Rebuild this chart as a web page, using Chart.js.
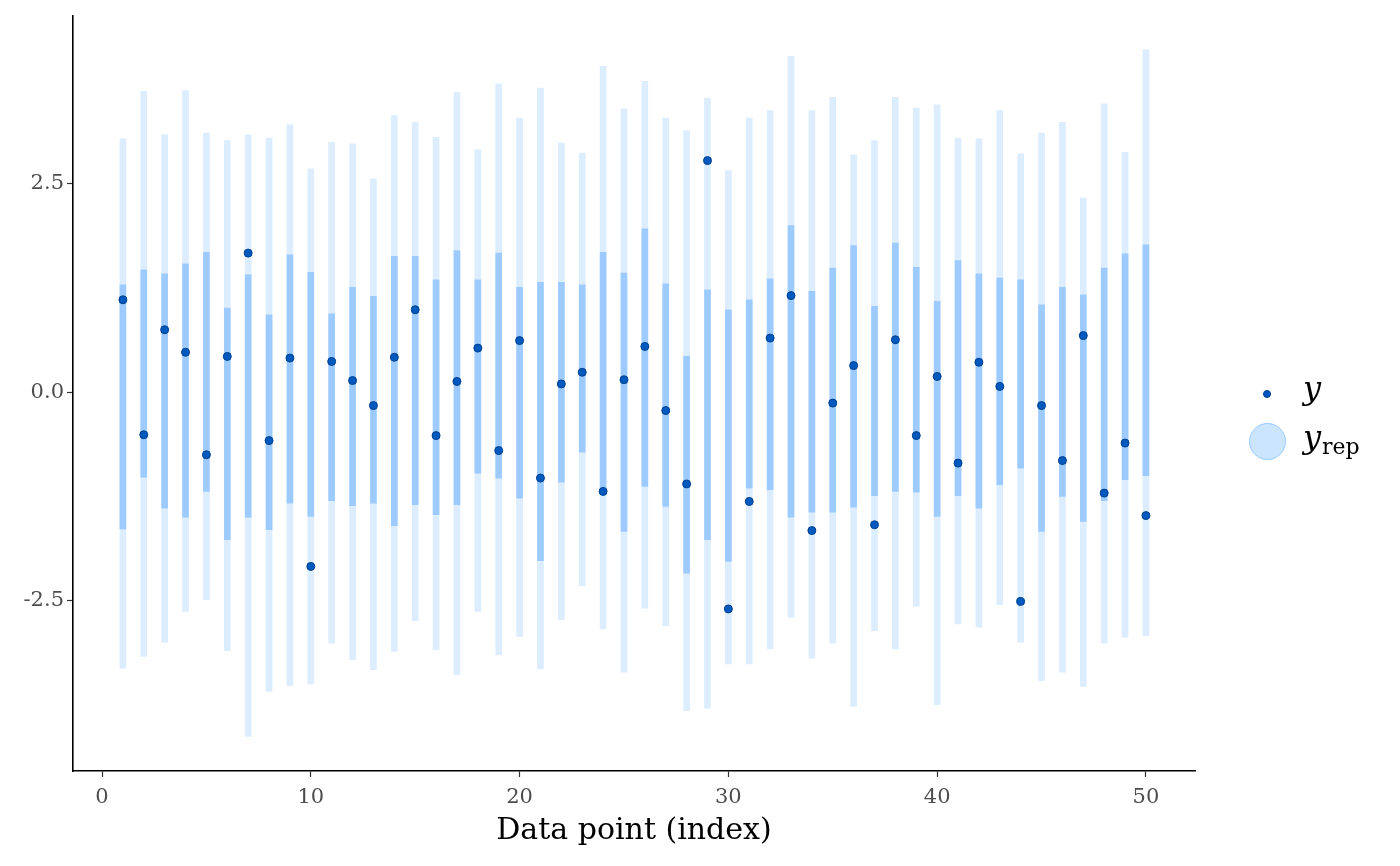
<!DOCTYPE html>
<html>
<head>
<meta charset="utf-8">
<script src="https://cdn.jsdelivr.net/npm/chart.js@4.4.0/dist/chart.umd.min.js"></script>
<style>
  html, body { margin: 0; padding: 0; background: #fff; }
  #wrap { position: relative; width: 1400px; height: 866px; }
  #xTitle {
    position: absolute; left: 73px; width: 1122px; top: 811px;
    text-align: center; font-family: "DejaVu Serif", serif; font-size: 30px; color: #000;
  }
  .legend-item { position: absolute; font-family: "DejaVu Serif", serif; color: #000; }
  .dot { position: absolute; border-radius: 50%; }
</style>
</head>
<body>
<div id="wrap">
  <canvas id="chart" width="1400" height="866"></canvas>
  <div id="xTitle">Data point (index)</div>
  <div class="dot" style="left:1263px; top:390px; width:6px; height:6px; background:#0059bf; border:1px solid #003f8a;"></div>
  <div class="legend-item" style="left:1303px; top:369px; font-size:32px; font-style:italic;">y</div>
  <div class="dot" style="left:1249px; top:423px; width:35px; height:35px; background:#cce5ff; border:1.5px solid #99cbff;"></div>
  <div class="legend-item" style="left:1303px; top:418px; font-size:32px;"><i>y</i><span style="font-size:22px; position:relative; top:6px; left:1px;">rep</span></div>
</div>
<script>
// data point index
const xIndex = [1, 2, 3, 4, 5, 6, 7, 8, 9, 10, 11, 12, 13, 14, 15, 16, 17, 18, 19, 20,
  21, 22, 23, 24, 25, 26, 27, 28, 29, 30, 31, 32, 33, 34, 35, 36, 37, 38, 39, 40,
  41, 42, 43, 44, 45, 46, 47, 48, 49, 50];

// observed y
const yObs = [1.11, -0.51, 0.75, 0.48, -0.75, 0.43, 1.67, -0.58, 0.41, -2.09,
  0.37, 0.14, -0.16, 0.42, 0.99, -0.52, 0.13, 0.53, -0.70, 0.62,
  -1.03, 0.10, 0.24, -1.19, 0.15, 0.55, -0.22, -1.10, 2.78, -2.60,
  -1.31, 0.65, 1.16, -1.66, -0.13, 0.32, -1.59, 0.63, -0.52, 0.19,
  -0.85, 0.36, 0.07, -2.51, -0.16, -0.82, 0.68, -1.21, -0.61, -1.48];

// inner interval of y_rep
const innerLo = [-1.64, -1.02, -1.39, -1.50, -1.19, -1.77, -1.50, -1.65, -1.33, -1.49,
  -1.30, -1.36, -1.33, -1.60, -1.35, -1.47, -1.35, -0.97, -1.03, -1.27,
  -2.02, -1.08, -0.72, -1.22, -1.67, -1.13, -1.37, -2.17, -1.77, -2.03,
  -1.15, -1.17, -1.50, -1.44, -1.44, -1.38, -1.24, -1.19, -1.20, -1.49,
  -1.24, -1.39, -1.11, -0.91, -1.67, -1.25, -1.55, -1.30, -1.05, -1.00];
const innerHi = [1.29, 1.47, 1.42, 1.54, 1.68, 1.01, 1.41, 0.93, 1.65, 1.44,
  0.94, 1.26, 1.15, 1.63, 1.63, 1.35, 1.70, 1.35, 1.67, 1.26,
  1.32, 1.32, 1.29, 1.68, 1.43, 1.96, 1.30, 0.43, 1.23, 0.99,
  1.11, 1.36, 2.00, 1.21, 1.49, 1.76, 1.03, 1.79, 1.50, 1.09,
  1.58, 1.42, 1.37, 1.35, 1.05, 1.26, 1.17, 1.49, 1.66, 1.77];

// outer interval of y_rep
const outerLo = [-3.31, -3.17, -3.00, -2.63, -2.49, -3.10, -4.13, -3.59, -3.52, -3.50,
  -3.01, -3.21, -3.33, -3.11, -2.74, -3.09, -3.39, -2.63, -3.15, -2.93,
  -3.32, -2.73, -2.32, -2.84, -3.36, -2.59, -2.80, -3.82, -3.79, -3.26,
  -3.26, -3.08, -2.70, -3.19, -3.01, -3.77, -2.86, -3.08, -2.57, -3.75,
  -2.78, -2.82, -2.55, -3.00, -3.46, -3.36, -3.53, -3.01, -2.94, -2.92];
const outerHi = [3.04, 3.61, 3.09, 3.62, 3.11, 3.02, 3.09, 3.05, 3.21, 2.68,
  3.00, 2.98, 2.56, 3.32, 3.24, 3.06, 3.60, 2.91, 3.70, 3.29,
  3.65, 2.99, 2.87, 3.91, 3.40, 3.73, 3.29, 3.14, 3.53, 2.66,
  3.29, 3.38, 4.03, 3.38, 3.54, 2.85, 3.02, 3.54, 3.41, 3.45,
  3.05, 3.04, 3.38, 2.86, 3.11, 3.24, 2.33, 3.46, 2.88, 4.11];

const xTicks = [0, 10, 20, 30, 40, 50];
const yTicks = [-2.5, 0, 2.5];

const tickFont = { family: "DejaVu Serif", size: 21 };

new Chart(document.getElementById("chart"), {
  type: "bar",
  data: {
    datasets: [
      {
        type: "scatter",
        label: "y",
        data: xIndex.map((x, i) => ({ x: x, y: yObs[i] })),
        backgroundColor: "#0059bf",
        borderColor: "#003f8a",
        borderWidth: 1,
        pointRadius: 4,
        order: 0
      },
      {
        label: "inner",
        data: xIndex.map((x, i) => ({ x: x, y: [innerLo[i], innerHi[i]] })),
        backgroundColor: "#9ecbff",
        borderWidth: 0,
        barThickness: 6,
        grouped: false,
        order: 1
      },
      {
        label: "outer",
        data: xIndex.map((x, i) => ({ x: x, y: [outerLo[i], outerHi[i]] })),
        backgroundColor: "#dcedff",
        borderWidth: 0,
        barThickness: 6,
        grouped: false,
        order: 2
      }
    ]
  },
  options: {
    responsive: false,
    animation: false,
    layout: { padding: { top: 15, right: 205, bottom: 0, left: 0 } },
    plugins: { legend: { display: false }, tooltip: { enabled: false } },
    scales: {
      x: {
        type: "linear",
        min: -1.39,
        max: 52.35,
        offset: false,
        afterBuildTicks: axis => { axis.ticks = xTicks.map(v => ({ value: v })); },
        afterFit: axis => { axis.height = 95; },
        grid: { display: true, offset: false, drawOnChartArea: false, drawTicks: true, tickLength: 6, tickColor: "#333", tickWidth: 1.2 },
        border: { display: true, color: "#000", width: 1.6 },
        ticks: { font: tickFont, color: "#4d4d4d", padding: 8, maxRotation: 0 }
      },
      y: {
        type: "linear",
        min: -4.545,
        max: 4.52,
        afterBuildTicks: axis => { axis.ticks = yTicks.map(v => ({ value: v })); },
        afterFit: axis => { axis.width = 73; },
        grid: { display: true, drawOnChartArea: false, drawTicks: true, tickLength: 6, tickColor: "#333", tickWidth: 1.2 },
        border: { display: true, color: "#000", width: 1.6 },
        ticks: { font: tickFont, color: "#4d4d4d", padding: 3, callback: v => v.toFixed(1) }
      }
    }
  }
});
</script>
</body>
</html>
